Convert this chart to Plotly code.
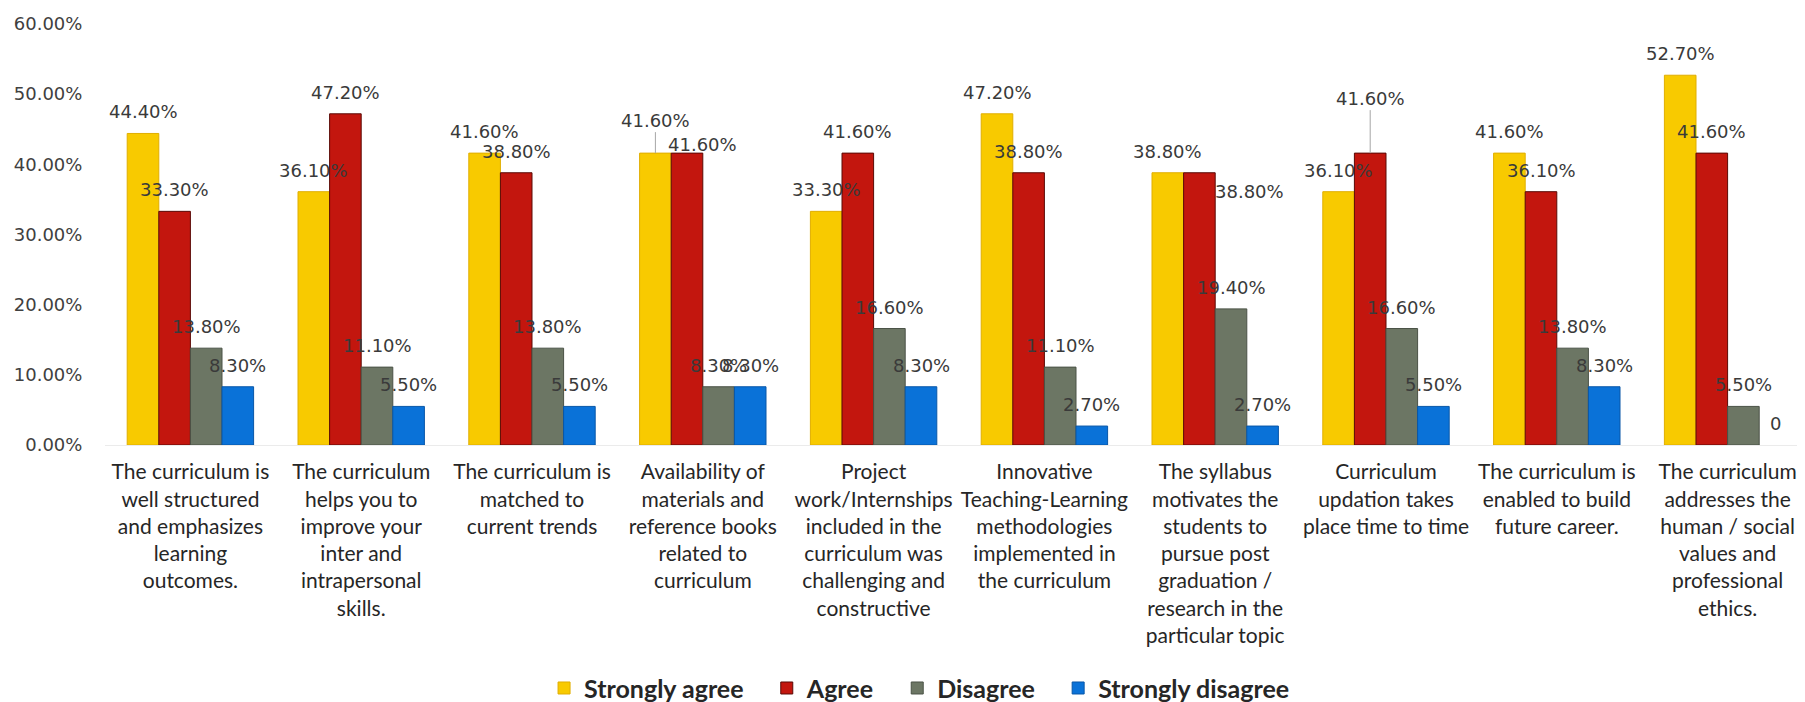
import plotly.graph_objects as go

categories = [
    "The curriculum is<br>well structured<br>and emphasizes<br>learning<br>outcomes.",
    "The curriculum<br>helps you to<br>improve your<br>inter and<br>intrapersonal<br>skills.",
    "The curriculum is<br>matched to<br>current trends",
    "Availability of<br>materials and<br>reference books<br>related to<br>curriculum",
    "Project<br>work/Internships<br>included in the<br>curriculum was<br>challenging and<br>constructive",
    "Innovative<br>Teaching-Learning<br>methodologies<br>implemented in<br>the curriculum",
    "The syllabus<br>motivates the<br>students to<br>pursue post<br>graduation /<br>research in the<br>particular topic",
    "Curriculum<br>updation takes<br>place time to time",
    "The curriculum is<br>enabled to build<br>future career.",
    "The curriculum<br>addresses the<br>human / social<br>values and<br>professional<br>ethics.",
]

series_names = ["Strongly agree", "Agree", "Disagree", "Strongly disagree"]
strongly_agree = [44.4, 36.1, 41.6, 41.6, 33.3, 47.2, 38.8, 36.1, 41.6, 52.7]
agree = [33.3, 47.2, 38.8, 41.6, 41.6, 38.8, 38.8, 41.6, 36.1, 41.6]
disagree = [13.8, 11.1, 13.8, 8.3, 16.6, 11.1, 19.4, 16.6, 13.8, 5.5]
strongly_disagree = [8.3, 5.5, 5.5, 8.3, 8.3, 2.7, 2.7, 5.5, 8.3, 0]
y_ticks = [0, 10, 20, 30, 40, 50, 60]

series_values = [strongly_agree, agree, disagree, strongly_disagree]
colors = ["#F8CA00", "#C3160E", "#6C7664", "#0A72D8"]
edge_colors = ["#E0AE00", "#5A0A06", "#4A5246", "#0857A8"]

# label style tweaks (series index, category index) -> (xshift, yshift, leader)
label_tweaks = {
    (0, 3): (0, 33, True),
    (1, 3): (15, 9, False),
    (1, 6): (50, -19, False),
    (1, 7): (0, 55, True),
}

BARGAP = 0.26
n_series = len(series_values)
bar_w = (1 - BARGAP) / n_series
NBSP = "\u00a0"

fig = go.Figure()
idx = list(range(len(categories)))
for k, (name, vals) in enumerate(zip(series_names, series_values)):
    fig.add_trace(go.Bar(
        x=idx,
        y=[v / 100 for v in vals],
        name=name + NBSP * 3,
        marker=dict(color=colors[k],
                    line=dict(color=edge_colors[k],
                              width=[0 if v == 0 else 1 for v in vals])),
    ))

annotations = []
for k, vals in enumerate(series_values):
    for i, v in enumerate(vals):
        txt = "0" if v == 0 else f"{v:.2f}%"
        xpos = i + (k - (n_series - 1) / 2) * bar_w
        xs, ys, leader = label_tweaks.get((k, i), (0, 21.5, False))
        if leader:
            annotations.append(dict(
                x=xpos, y=v / 100, xref="x", yref="y", text=txt,
                showarrow=True, arrowhead=0, arrowwidth=1, arrowcolor="#A6A6A6",
                ax=xs, ay=-ys, standoff=0,
                font=dict(family="DejaVu Sans", size=18, color="#3A3A3A"),
            ))
        else:
            annotations.append(dict(
                x=xpos, y=v / 100, xref="x", yref="y", text=txt,
                showarrow=False, xshift=xs, yshift=ys, yanchor="middle",
                font=dict(family="DejaVu Sans", size=18, color="#3A3A3A"),
            ))

fig.update_layout(
    width=1805, height=702,
    margin=dict(l=97, r=0, t=16, b=265),
    barmode="group", bargap=BARGAP, bargroupgap=0,
    plot_bgcolor="white", paper_bgcolor="white",
    annotations=annotations,
    legend=dict(
        orientation="h", xref="container", yref="container",
        x=0.51, y=0.031, xanchor="center", yanchor="middle",
        font=dict(family="Lato", size=25, color="#262626", weight="bold"),
        itemwidth=30, traceorder="normal",
    ),
    xaxis=dict(
        tickmode="array", tickvals=idx, ticktext=categories,
        range=[-0.5, 9.5], showgrid=False, zeroline=False,
        showline=True, linecolor="#EBEBEB", linewidth=1,
        ticks="outside", ticklen=8, tickcolor="rgba(0,0,0,0)",
        tickfont=dict(family="Lato", size=21, color="#262626"),
        tickangle=0, ticklabeloverflow="allow",
    ),
    yaxis=dict(
        range=[0, 0.6], tickmode="array", tickvals=[t / 100 for t in y_ticks],
        tickformat=".2%", showgrid=False, zeroline=False, showline=False,
        ticks="outside", ticklen=18, tickcolor="rgba(0,0,0,0)",
        tickfont=dict(family="DejaVu Sans", size=18, color="#404040"),
    ),
    showlegend=True,
)

fig.write_html("out.html")
